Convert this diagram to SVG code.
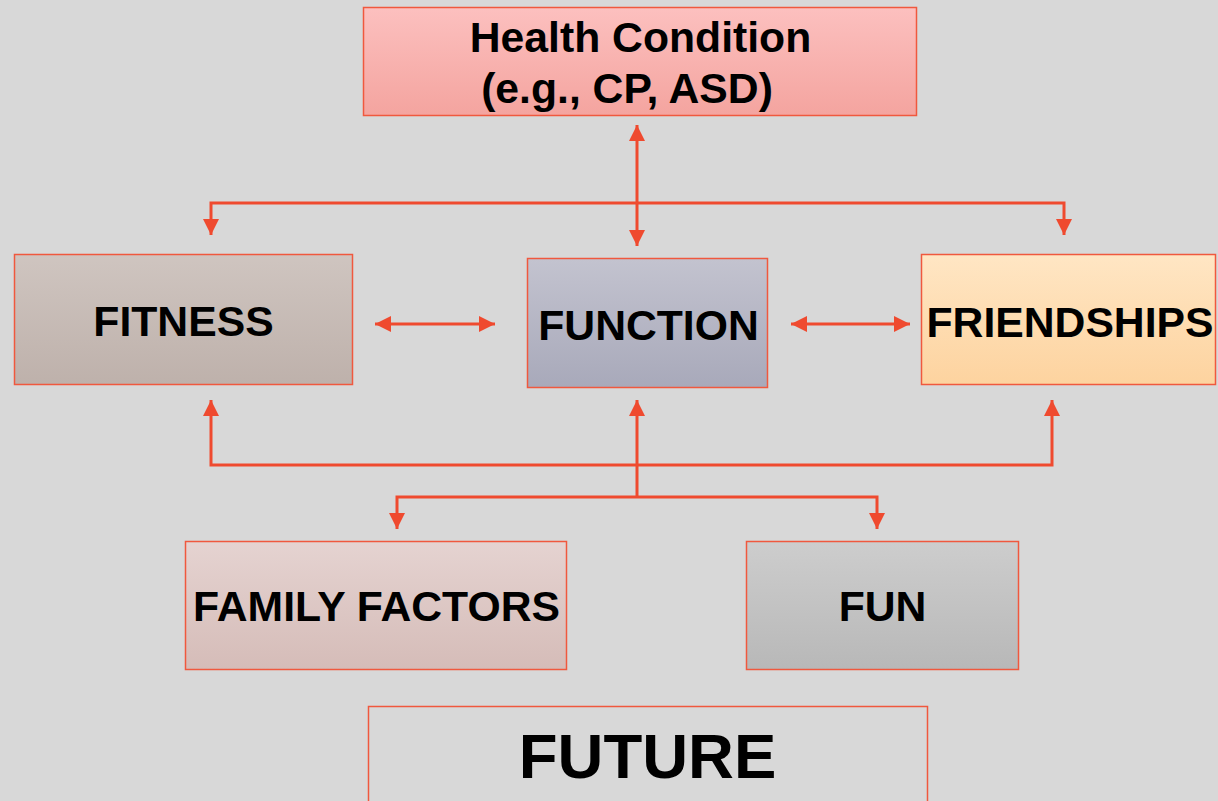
<svg xmlns="http://www.w3.org/2000/svg" width="1218" height="801" viewBox="0 0 1218 801">
<style>
.box{stroke:#f0583e;stroke-width:1.5}
.t{font-family:"Liberation Sans",Arial,sans-serif;font-weight:bold;fill:#000;text-anchor:middle;font-size:42.7px}
.c{fill:none;stroke:#ef4a2f;stroke-width:3;stroke-linejoin:miter}
</style>
<defs>
<linearGradient id="gH" x1="0" y1="0" x2="0" y2="1"><stop offset="0" stop-color="#fcc0bf"/><stop offset="1" stop-color="#f4a49f"/></linearGradient>
<linearGradient id="gFi" x1="0" y1="0" x2="0" y2="1"><stop offset="0" stop-color="#cfc5c0"/><stop offset="1" stop-color="#beb1ab"/></linearGradient>
<linearGradient id="gFu" x1="0" y1="0" x2="0" y2="1"><stop offset="0" stop-color="#c3c3cf"/><stop offset="1" stop-color="#a8a9ba"/></linearGradient>
<linearGradient id="gFr" x1="0" y1="0" x2="0" y2="1"><stop offset="0" stop-color="#ffe6c4"/><stop offset="1" stop-color="#fdd39f"/></linearGradient>
<linearGradient id="gFa" x1="0" y1="0" x2="0" y2="1"><stop offset="0" stop-color="#e5d3d1"/><stop offset="1" stop-color="#d5bcb8"/></linearGradient>
<linearGradient id="gFn" x1="0" y1="0" x2="0" y2="1"><stop offset="0" stop-color="#cdcdcd"/><stop offset="1" stop-color="#b8b8b8"/></linearGradient>
<marker id="ah" viewBox="0 0 16 16" refX="16" refY="8" markerWidth="16" markerHeight="16" markerUnits="userSpaceOnUse" orient="auto-start-reverse"><path d="M0,0 L16,8 L0,16 z" fill="#ef4a2f"/></marker>
</defs>
<rect width="1218" height="801" fill="#d8d8d8"/>
<g id="connectors">
<line class="c" x1="637" y1="125" x2="637" y2="246" marker-start="url(#ah)" marker-end="url(#ah)"/>
<polyline class="c" points="211,235 211,203 1064,203 1064,235" marker-start="url(#ah)" marker-end="url(#ah)"/>
<line class="c" x1="375" y1="324" x2="495" y2="324" marker-start="url(#ah)" marker-end="url(#ah)"/>
<line class="c" x1="791" y1="324" x2="910" y2="324" marker-start="url(#ah)" marker-end="url(#ah)"/>
<polyline class="c" points="211,400 211,465 1052,465 1052,400" marker-start="url(#ah)" marker-end="url(#ah)"/>
<line class="c" x1="637" y1="497" x2="637" y2="400" marker-end="url(#ah)"/>
<polyline class="c" points="397,529 397,497 877,497 877,529" marker-start="url(#ah)" marker-end="url(#ah)"/>
</g>
<g id="health">
<rect class="box" x="363.5" y="7.5" width="553" height="108" fill="url(#gH)"/>
<text class="t" x="640.5" y="52">Health Condition</text>
<text class="t" x="627" y="103">(e.g., CP, ASD)</text>
</g>
<g id="fitness">
<rect class="box" x="14.5" y="254.5" width="338" height="130" fill="url(#gFi)"/>
<text class="t" x="183.5" y="336">FITNESS</text>
</g>
<g id="function">
<rect class="box" x="527.5" y="258.5" width="240" height="129" fill="url(#gFu)"/>
<text class="t" x="648.5" y="340">FUNCTION</text>
</g>
<g id="friendships">
<rect class="box" x="921.5" y="254.5" width="294" height="130" fill="url(#gFr)"/>
<text class="t" x="1070" y="337">FRIENDSHIPS</text>
</g>
<g id="family">
<rect class="box" x="185.5" y="541.5" width="381" height="128" fill="url(#gFa)"/>
<text class="t" x="376.5" y="621">FAMILY FACTORS</text>
</g>
<g id="fun">
<rect class="box" x="746.5" y="541.5" width="272" height="128" fill="url(#gFn)"/>
<text class="t" x="882.5" y="621">FUN</text>
</g>
<g id="future">
<rect class="box" x="368.5" y="706.5" width="559" height="110" fill="none" stroke-width="2"/>
<text class="t" x="647.5" y="778" style="font-size:63.5px">FUTURE</text>
</g>
</svg>
